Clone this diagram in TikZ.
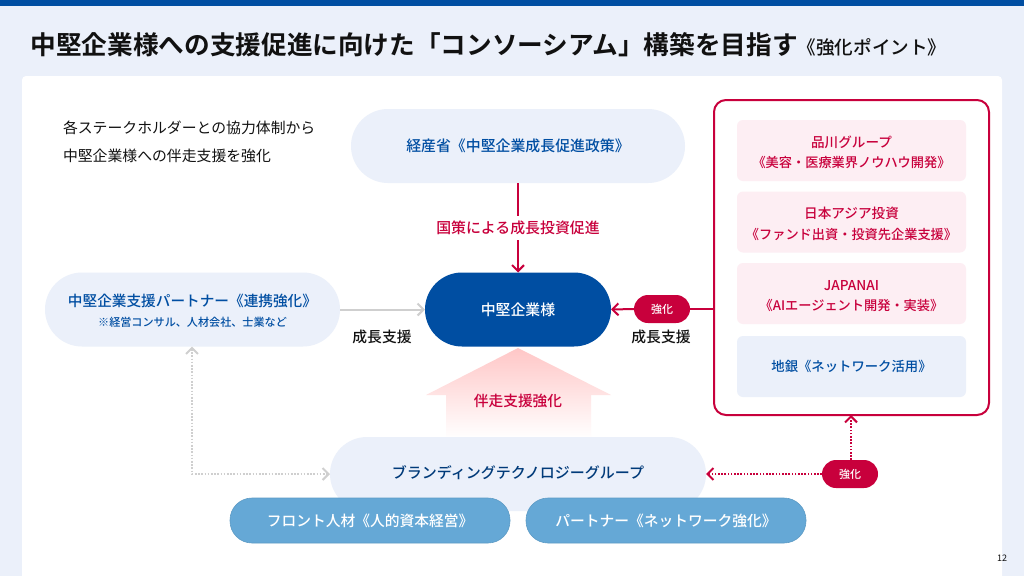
\documentclass[tikz,border=0pt]{standalone}
\usepackage{fontspec}
\setmainfont[BoldFont={Noto Sans CJK JP Medium}]{Noto Sans CJK JP}
\newfontfamily\titlefont{Noto Sans CJK JP Bold}
\usetikzlibrary{arrows.meta}
\definecolor{bgpale}{HTML}{EBF0FA}
\definecolor{navy}{HTML}{004EA2}
\definecolor{crim}{HTML}{C8003C}
\definecolor{pinkbox}{HTML}{FDEEF3}
\definecolor{skyb}{HTML}{65A8D6}
\definecolor{greyln}{HTML}{CFCFCF}
\definecolor{inkb}{HTML}{111111}
\newcommand{\fs}[1]{\fontsize{#1}{#1}\selectfont}
\newcommand{\cardtop}{\rule{0pt}{15pt}}
\tikzset{
  x=1pt,y=-1pt,
  every node/.style={inner sep=0pt,outer sep=0pt,align=center,text=inkb},
  pill/.style={rounded corners=37pt,minimum height=74pt,fill=bgpale,font=\fs{14.9}\bfseries,text=navy},
  card/.style={rounded corners=6pt,minimum width=229pt,minimum height=61pt,fill=pinkbox,text=crim,font=\fs{13.6}\bfseries},
  badge/.style={rounded corners=14pt,minimum width=56pt,minimum height=28pt,fill=crim,text=white,font=\fs{11}\bfseries},
  sky/.style={rounded corners=22pt,minimum width=280pt,minimum height=45pt,fill=skyb,draw=skyb!92!black,line width=.6pt,text=white,font=\fs{14.75}\bfseries},
  tag/.style={font=\fs{14.8}\bfseries},
  redln/.style={draw=crim,line width=2pt},
  greyarrow/.style={draw=greyln,line width=2pt,-{Straight Barb[length=6pt,width=12pt]}},
  redarrow/.style={redln,-{Straight Barb[length=6pt,width=12pt]}},
  reddots/.style={redarrow,line width=2pt,dash pattern=on 1.6pt off 1.6pt},
  greydots/.style={draw=greyln,line width=2pt,dash pattern=on 1.6pt off 1.6pt,{Straight Barb[length=6pt,width=12pt]}-{Straight Barb[length=6pt,width=12pt]}}
}
\begin{document}
\begin{tikzpicture}
\useasboundingbox (0,0) rectangle (1024,576);
\fill[bgpale] (0,0) rectangle (1024,576);
\fill[navy] (0,0) rectangle (1024,6);
\fill[white,rounded corners=4pt] (22,76) rectangle (1002,590);
\clip (0,0) rectangle (1024,576);

\node[anchor=west,font=\titlefont\fs{25.65}] (title) at (30.5,45) {中堅企業様への支援促進に向けた「コンソーシアム」構築を目指す};
\node[font=\fs{18.6}\bfseries] (subtitle) at (872,47) {《強化ポイント》};

\node[anchor=west,font=\fs{14.85}] (introa) at (63,128) {各ステークホルダーとの協力体制から};
\node[anchor=west,font=\fs{14.85}] (introb) at (63,155.5) {中堅企業様への伴走支援を強化};

% block arrow
\shade[top color=red!22!white!95!pink,bottom color=white,shading angle=0]
 (518,348) -- (611,395) -- (591,395) -- (591,438) -- (446,438) -- (446,395) -- (426,395) -- cycle;
\node[font=\fs{14.7}\bfseries,text=crim] (bansou) at (518,401) {伴走支援強化};

\node[pill,minimum width=334pt] (meti) at (518,146) {経産省《中堅企業成長促進政策》};
\node[pill,minimum width=186pt,fill=navy,text=white] (core) at (518,309.5) {中堅企業様};
\node[pill,minimum width=295pt] (partner) at (192.5,309.5) {};
\node[font=\fs{14.65}\bfseries,text=navy] (partnera) at (192.5,301) {中堅企業支援パートナー《連携強化》};
\node[font=\fs{11.1}\bfseries,text=navy] (partnerb) at (192.5,322) {※経営コンサル、人材会社、士業など};
\node[pill,minimum width=376pt,text=navy!75!black] (brand) at (518,474) {};
\node[font=\fs{15}\bfseries,text=navy!75!black] (brandt) at (518,473) {ブランディングテクノロジーグループ};
\node[sky] (front) at (370,520.5) {フロント人材《人的資本経営》};
\node[sky] (net) at (666,520.5) {パートナー《ネットワーク強化》};

% red frame
\node[draw=crim,line width=2pt,rounded corners=12pt,minimum width=275pt,minimum height=315pt,fill=white] (frame) at (851.5,257.5) {};
\node[card] (shina) at (851.5,150.5) {\cardtop 品川グループ\\[7pt]{\fs{13.2}《美容・医療業界ノウハウ開発》}};
\node[card] (asia) at (851.5,222) {\cardtop 日本アジア投資\\[7pt]{\fs{13.2}《ファンド出資・投資先企業支援》}};
\node[card] (jpn) at (851.5,293.5) {\cardtop JAPANAI\\[7pt]{\fs{13.2}《AIエージェント開発・実装》}};
\node[card,fill=bgpale,text=navy,font=\fs{13.35}\bfseries] (bank) at (851.5,366.5) {地銀《ネットワーク活用》};

% connectors
\node[font=\fs{14.9}\bfseries,text=crim,fill=white,inner ysep=5pt] (policy) at (518,228) {国策による成長投資促進};
\draw[redln] (meti.south) -- (policy.north);
\draw[redarrow] (policy.south) -- (core.north);
\draw[greyarrow] (partner.east) -- (core.west);
\node[tag] (growa) at (382,337) {成長支援};
\node[tag] (growb) at (661,337) {成長支援};
\node[badge] (boost) at (662,309) {強化};
\draw[redln] (frame.west |- boost) -- (boost.east);
\draw[redarrow] (boost.west) -- (core.east);
\node[badge] (boostb) at (850,474) {強化};
\coordinate (elbow) at (192,474);
\coordinate (framefoot) at (851,415);
\draw[reddots] (boostb.west) -- (brand.east);
\draw[reddots] (framefoot |- boostb.north) -- (framefoot);
\draw[greydots] ([xshift=-0.5pt]partner.south) -- (elbow) -- (brand.west);

\node[font=\fs{9}] (page) at (1002,558) {12};
\end{tikzpicture}
\end{document}
